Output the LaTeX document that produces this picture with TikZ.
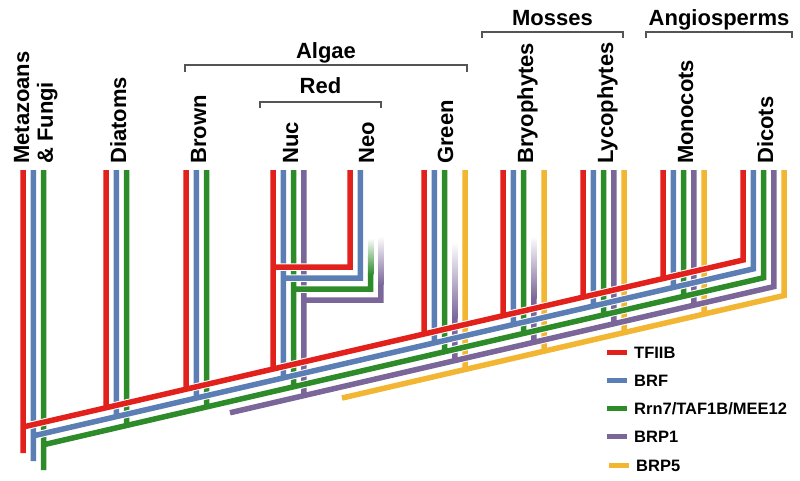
\documentclass[tikz,border=0pt]{standalone}
\usepackage{fontspec}
\setmainfont{Liberation Sans}
\usetikzlibrary{positioning, calc}
\definecolor{tfiib}{HTML}{E2211C}
\definecolor{brf}{HTML}{5B7EB5}
\definecolor{rrn}{HTML}{2E8B2A}
\definecolor{brpone}{HTML}{7B6699}
\definecolor{brpfive}{HTML}{F2B632}
\definecolor{bracketgray}{HTML}{555555}
\tikzstyle{branch} = [line width=5.5pt, line join=miter,
                      preaction={draw=white, line width=7.5pt}]
\tikzstyle{taxon} = [rotate=90, anchor=base west, inner sep=0pt,
                     font=\fontsize{22}{26}\selectfont\bfseries]
\tikzstyle{clade} = [anchor=base, inner sep=0pt,
                     font=\fontsize{22}{26}\selectfont\bfseries]
\tikzstyle{bracket} = [draw=bracketgray, line width=1.3pt]
\tikzstyle{keytext} = [anchor=base west, inner sep=0pt,
                       font=\fontsize{16.5}{20}\selectfont\bfseries]
\tikzstyle{keyline} = [line width=5pt]
% height of the slanted branch of family #2 at x = #1
\newcommand{\diagy}[2]{427-0.2319*(#1-23)+11.25*#2}

\begin{document}
\begin{tikzpicture}[x=1pt, y=-1pt]
    \useasboundingbox (0,0) rectangle (800,480);

    % BRP5
    \draw[branch, brpfive] (342,{\diagy{342}{4}}) -- (784.2,{\diagy{784.2}{4}}) -- (784.2,170)
        \foreach \x in {465.2,544.2,624.2,704.2} {(\x,170) -- (\x,{\diagy{\x}{4}})};

    % BRP1
    \draw[branch, brpone] (230,{\diagy{230}{3}}) -- (773.9,{\diagy{773.9}{3}}) -- (773.9,170)
        (303.9,300) -- (380.9,300) -- (380.9,284)
        (454.9,{\diagy{454.9}{3}}) -- (454.9,318)
        (533.9,{\diagy{533.9}{3}}) -- (533.9,298)
        \foreach \x in {303.9,613.9,693.9} {(\x,170) -- (\x,{\diagy{\x}{3}})};
    \shade[top color=white, bottom color=brpone] (378.15,236) rectangle (383.65,284.5);
    \shade[top color=white, bottom color=brpone] (452.15,242) rectangle (457.65,318.5);
    \shade[top color=white, bottom color=brpone] (531.15,236) rectangle (536.65,298.5);

    % Rrn7
    \draw[branch, rrn] (43.6,470) -- (43.6,170)
        (43.6,{\diagy{43.6}{2}}) -- (763.6,{\diagy{763.6}{2}}) -- (763.6,170)
        (293.6,289) -- (370.6,289) -- (370.6,274)
        \foreach \x in {126.6,206.6,293.6,444.6,523.6,603.6,683.6} {(\x,170) -- (\x,{\diagy{\x}{2}})};
    \shade[top color=white, bottom color=rrn] (367.85,238) rectangle (373.35,274.5);

    % BRF
    \draw[branch, brf] (33.3,461) -- (33.3,170)
        (33.3,{\diagy{33.3}{1}}) -- (753.3,{\diagy{753.3}{1}}) -- (753.3,170)
        (360.3,170) -- (360.3,278) -- (283.3,278)
        \foreach \x in {116.3,196.3,283.3,434.3,513.3,593.3,673.3} {(\x,170) -- (\x,{\diagy{\x}{1}})};

    % TFIIB
    \draw[branch, tfiib] (23,453) -- (23,170)
        (23,{\diagy{23}{0}}) -- (743,{\diagy{743}{0}}) -- (743,170)
        (350,170) -- (350,267) -- (273,267)
        \foreach \x in {106,186,273,424,503,583,663} {(\x,170) -- (\x,{\diagy{\x}{0}})};

    % taxa
    \node[taxon] (metazoans) at (29,164) {Metazoans};
    \node[taxon] (fungi) at (52.8,164) {\& Fungi};
    \node[taxon] (diatoms) at (126,164) {Diatoms};
    \node[taxon] (brown) at (206,164) {Brown};
    \node[taxon] (nuc) at (298,164) {Nuc};
    \node[taxon] (neo) at (374,164) {Neo};
    \node[taxon] (green) at (453,164) {Green};
    \node[taxon] (bryo) at (533,164) {Bryophytes};
    \node[taxon] (lyco) at (613,164) {Lycophytes};
    \node[taxon] (mono) at (693,164) {Monocots};
    \node[taxon] (dicots) at (773,164) {Dicots};

    % clades
    \draw[bracket] (185,72) -- (185,65) -- (467,65) -- (467,72);
    \node[clade] (algae) at (326,58) {Algae};
    \draw[bracket] (260,108) -- (260,102) -- (381,102) -- (381,108);
    \node[clade] (red) at (320.5,93) {Red};
    \draw[bracket] (482,38) -- (482,32) -- (623,32) -- (623,38);
    \node[clade] (mosses) at (552.5,25) {Mosses};
    \draw[bracket] (646,38) -- (646,32) -- (792,32) -- (792,38);
    \node[clade] (angio) at (719,25) {Angiosperms};

    % legend
    \draw[keyline, tfiib] (607,352) -- (627,352);
    \node[keytext] (ktfiib) at (634,358) {TFIIB};
    \draw[keyline, brf] (607,380) -- (627,380);
    \node[keytext] (kbrf) at (634,386) {BRF};
    \draw[keyline, rrn] (607,408) -- (627,408);
    \node[keytext] (krrn) at (634,414) {Rrn7/TAF1B/MEE12};
    \draw[keyline, brpone] (607,436.5) -- (627,436.5);
    \node[keytext] (kbrpone) at (634,442.5) {BRP1};
    \draw[keyline, brpfive] (609,465) -- (629,465);
    \node[keytext] (kbrpfive) at (636,471) {BRP5};
\end{tikzpicture}
\end{document}
